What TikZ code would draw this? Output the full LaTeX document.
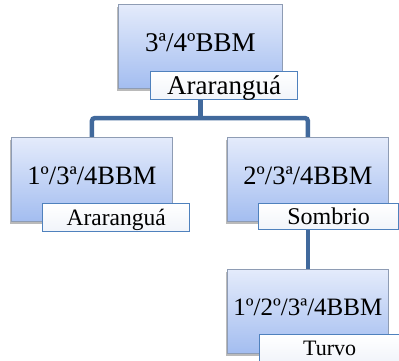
\documentclass[tikz,border=0pt]{standalone}
\usepackage{fontspec}
\setmainfont{Liberation Serif}
\usetikzlibrary{shadows,backgrounds}
\definecolor{linkblue}{HTML}{41699C}
\definecolor{boxtop}{HTML}{E4EBFB}
\definecolor{boxbot}{HTML}{A3BDF0}
\definecolor{boxline}{HTML}{8E9CB4}
\definecolor{tagline}{HTML}{4F81BD}
\definecolor{tagbot}{HTML}{F1F4FA}
\tikzset{
 unitbox/.style={draw=boxline, line width=0.8pt, top color=boxtop, bottom color=boxbot,
   minimum width=161pt, minimum height=84pt, inner sep=0pt, anchor=north west,
   drop shadow={shadow xshift=-1pt, shadow yshift=-2.5pt, opacity=0.45, fill=black!60}},
 tagbox/.style={draw=tagline, line width=1.3pt, top color=white, bottom color=tagbot,
   minimum height=28pt, inner sep=0pt, anchor=north west},
 link/.style={draw=linkblue, line width=4.5pt, rounded corners=3pt},
 fsize/.style={font=\fontsize{#1}{#1}\selectfont, text height={0.66*#1pt}, text depth=0pt}
}
\newcommand{\unittext}[1]{\raisebox{4pt}{#1}}
\begin{document}
\begin{tikzpicture}[x=1pt,y=-1pt]
\useasboundingbox (0,0) rectangle (399,360);
% unit boxes
\node[unitbox, fsize=27, minimum width=164pt] (topbox) at (118,4) {\unittext{3ª/4ºBBM}};
\node[unitbox, fsize=26.5] (leftbox) at (11,137) {\unittext{1º/3ª/4BBM}};
\node[unitbox, fsize=26.5] (rightbox) at (227,137) {\unittext{2º/3ª/4BBM}};
\node[unitbox, fsize=25] (bottombox) at (227,269) {\unittext{1º/2º/3ª/4BBM}};
% name tags
\node[tagbox, fsize=27, minimum width=147pt] (toptag) at (150,71) {Araranguá};
\node[tagbox, fsize=23.5, minimum width=147pt] (lefttag) at (42,203) {Araranguá};
\node[tagbox, fsize=24, minimum width=140pt, minimum height=26pt] (righttag) at (258,203) {Sombrio};
\node[tagbox, fsize=22, minimum width=140pt] (bottomtag) at (259,334) {Turvo};
% connectors
\begin{scope}[on background layer]
\coordinate (bar) at (0,118);
\draw[link] (topbox.center) -- (topbox.center |- bar);
\draw[link] (leftbox.north) -- (leftbox.north |- bar) -- (rightbox.north |- bar) -- (rightbox.north);
\draw[link] (rightbox.center) -- (bottombox.north);
\end{scope}
\end{tikzpicture}
\end{document}
